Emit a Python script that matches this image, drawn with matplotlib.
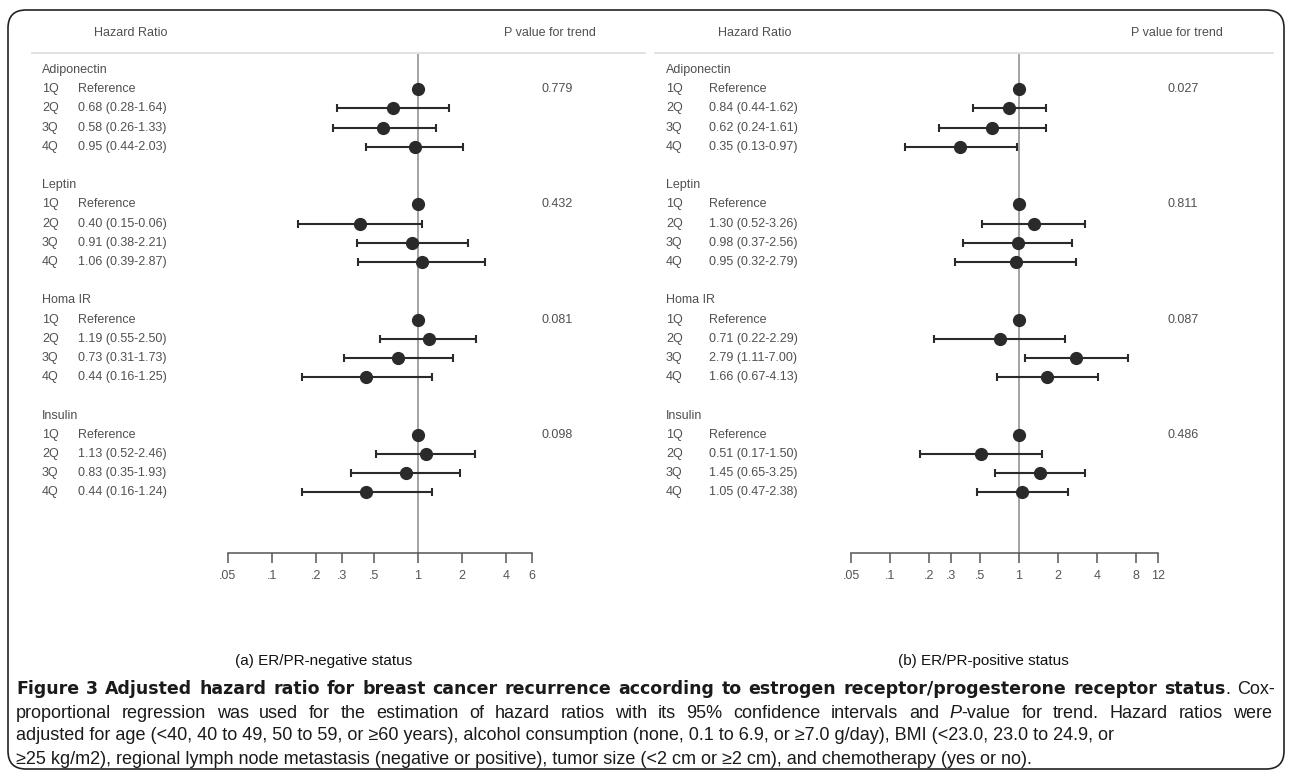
import numpy as np
import matplotlib
matplotlib.use("Agg")
import matplotlib.pyplot as plt
from matplotlib.patches import FancyBboxPatch
from matplotlib.transforms import blended_transform_factory

# ---- data ----
markers = ["Adiponectin", "Leptin", "Homa IR", "Insulin"]
quartiles = ["1Q", "2Q", "3Q", "4Q"]

# (a) ER/PR-negative
neg_hr = [[1, 0.68, 0.58, 0.95],
          [1, 0.40, 0.91, 1.06],
          [1, 1.19, 0.73, 0.44],
          [1, 1.13, 0.83, 0.44]]
neg_lo = [[np.nan, 0.28, 0.26, 0.44],
          [np.nan, 0.15, 0.38, 0.39],
          [np.nan, 0.55, 0.31, 0.16],
          [np.nan, 0.52, 0.35, 0.16]]
neg_hi = [[np.nan, 1.64, 1.33, 2.03],
          [np.nan, 1.06, 2.21, 2.87],
          [np.nan, 2.50, 1.73, 1.25],
          [np.nan, 2.46, 1.93, 1.24]]
neg_p = ["0.779", "0.432", "0.081", "0.098"]
# label as printed in the original (typo kept)
neg_label_fix = {(1, 1): "0.40 (0.15-0.06)"}
neg_ticks = [0.05, 0.1, 0.2, 0.3, 0.5, 1, 2, 4, 6]
neg_ticklabels = [".05", ".1", ".2", ".3", ".5", "1", "2", "4", "6"]

# (b) ER/PR-positive
pos_hr = [[1, 0.84, 0.62, 0.35],
          [1, 1.30, 0.98, 0.95],
          [1, 0.71, 2.79, 1.66],
          [1, 0.51, 1.45, 1.05]]
pos_lo = [[np.nan, 0.44, 0.24, 0.13],
          [np.nan, 0.52, 0.37, 0.32],
          [np.nan, 0.22, 1.11, 0.67],
          [np.nan, 0.17, 0.65, 0.47]]
pos_hi = [[np.nan, 1.62, 1.61, 0.97],
          [np.nan, 3.26, 2.56, 2.79],
          [np.nan, 2.29, 7.00, 4.13],
          [np.nan, 1.50, 3.25, 2.38]]
pos_p = ["0.027", "0.811", "0.087", "0.486"]
pos_ticks = [0.05, 0.1, 0.2, 0.3, 0.5, 1, 2, 4, 8, 12]
pos_ticklabels = [".05", ".1", ".2", ".3", ".5", "1", "2", "4", "8", "12"]

subtitles = ["(a) ER/PR-negative status", "(b) ER/PR-positive status"]

cap_lines = [
    [("Figure 3 Adjusted hazard ratio for breast cancer recurrence according to estrogen "
      "receptor/progesterone receptor status", "bold", "normal"), (". Cox-", "normal", "normal")],
    [("proportional regression was used for the estimation of hazard ratios with its 95% "
      "confidence intervals and ", "normal", "normal"), ("P", "normal", "italic"),
     ("-value for trend. Hazard ratios were", "normal", "normal")],
    [("adjusted for age (<40, 40 to 49, 50 to 59, or \u226560 years), alcohol consumption "
      "(none, 0.1 to 6.9, or \u22657.0 g/day), BMI (<23.0, 23.0 to 24.9, or", "normal", "normal")],
    [("\u226525 kg/m2), regional lymph node metastasis (negative or positive), tumor size "
      "(<2 cm or \u22652 cm), and chemotherapy (yes or no).", "normal", "normal")],
]

W, H = 1290, 776
plt.rcParams["font.family"] = ["Liberation Sans", "DejaVu Sans"]
fig = plt.figure(figsize=(W / 100, H / 100), dpi=100)
renderer = fig.canvas.get_renderer()

TXT = "#505050"
INK = "#2a2a2a"
ROW0, STEP = 70, 19.2        # pixel y of first row, row spacing
AX_TOP, AX_BOT = 54, 553      # pixel y of the plot area


def fx(px):
    return px / W


def fy(py):
    return 1 - py / H


def forest(hr, lo, hi, pvals, ticks, ticklabels, xmin, xmax, left_px, px_per_dec,
           x_name, x_val, x_p, x_hdr, x_phdr, sep, label_fix=None):
    width_px = px_per_dec * np.log10(xmax / xmin)
    ax = fig.add_axes([fx(left_px), fy(AX_BOT), width_px / W, (AX_BOT - AX_TOP) / H])
    ax.set_xscale("log")
    ax.set_xlim(xmin, xmax)
    ax.set_ylim((AX_BOT - ROW0) / STEP, (AX_TOP - ROW0) / STEP)
    for s in ["top", "left", "right"]:
        ax.spines[s].set_visible(False)
    ax.spines["bottom"].set_color("#555555")
    ax.spines["bottom"].set_linewidth(1.1)
    ax.set_yticks([])
    ax.set_xticks(ticks)
    ax.set_xticklabels(ticklabels)
    ax.minorticks_off()
    ax.tick_params(axis="x", length=7, width=1.1, color="#555555", labelcolor="#555555",
                   labelsize=9, pad=5)
    ax.axvline(1, color="#8a8a8a", lw=1.1, zorder=1)
    ax.patch.set_alpha(0)

    tr = blended_transform_factory(fig.transFigure, ax.transData)
    for b, name in enumerate(markers):
        r0 = 6 * b
        ax.text(fx(x_name), r0, name, transform=tr, va="center", ha="left",
                fontsize=9, color=TXT)
        rows = [r0 + 1 + q for q in range(4)]
        ax.errorbar(hr[b], rows, xerr=[np.array(hr[b]) - np.array(lo[b]),
                                       np.array(hi[b]) - np.array(hr[b])],
                    fmt="o", color=INK, ms=8.5, elinewidth=1.5, capsize=2.8,
                    capthick=1.5, zorder=3)
        for q in range(4):
            ax.text(fx(x_name), rows[q], quartiles[q], transform=tr, va="center",
                    ha="left", fontsize=9, color=TXT)
            if q == 0:
                lab = "Reference"
            elif label_fix and (b, q) in label_fix:
                lab = label_fix[(b, q)]
            else:
                lab = f"{hr[b][q]:.2f} ({lo[b][q]:.2f}-{hi[b][q]:.2f})"
            ax.text(fx(x_val), rows[q], lab, transform=tr, va="center", ha="left",
                    fontsize=9, color=TXT)
        ax.text(fx(x_p), r0 + 1, pvals[b], transform=tr, va="center", ha="left",
                fontsize=9, color=TXT)

    fig.text(fx(x_hdr), fy(33), "Hazard Ratio", va="center", ha="left", fontsize=9, color=TXT)
    fig.text(fx(x_phdr), fy(33), "P value for trend", va="center", ha="left",
             fontsize=9, color=TXT)
    fig.add_artist(plt.Line2D([fx(sep[0]), fx(sep[1])], [fy(53), fy(53)],
                              color="#dddddd", lw=1.2))
    return ax


forest(neg_hr, neg_lo, neg_hi, neg_p, neg_ticks, neg_ticklabels, 0.05, 6, 228, 146.0,
       42, 78, 542, 94, 504, (32, 645), neg_label_fix)
forest(pos_hr, pos_lo, pos_hi, pos_p, pos_ticks, pos_ticklabels, 0.05, 12, 851, 129.1,
       666, 709, 1167, 718, 1131, (655, 1273))

# ---- sub-captions ----
fig.text(fx(324), fy(661), subtitles[0], ha="center", va="center", fontsize=11, color="#111111")
fig.text(fx(983), fy(661), subtitles[1], ha="center", va="center", fontsize=11, color="#111111")


# ---- figure caption (first two lines justified like the journal layout) ----
def text_width(txt, **kw):
    t = fig.text(0, 0, txt, **kw)
    w = t.get_window_extent(renderer).width
    t.remove()
    return w


def fit_size(txt, target_px, **kw):
    return 10 * target_px / text_width(txt, fontsize=10, **kw)


reg_fs = fit_size(cap_lines[2][0][0], 1100)
bold_kw = dict(family=["DejaVu Sans"], fontweight="bold")
bold_fs = fit_size(cap_lines[0][0][0], 1200, **bold_kw)


def piece_kw(wt, st):
    if wt == "bold":
        return dict(fontsize=bold_fs, **bold_kw)
    return dict(fontsize=reg_fs, fontstyle=st)


def tokenize(parts):
    tokens, glue = [], False
    for txt, wt, st in parts:
        for i, w in enumerate(txt.split(" ")):
            if w == "":
                continue
            if i == 0 and glue and tokens:
                tokens[-1].append((w, wt, st))
            else:
                tokens.append([(w, wt, st)])
        glue = not txt.endswith(" ")
    return tokens


cap_y = [689, 713, 736, 759]
cap_right = [1275, 1272, None, None]
for parts, y, right in zip(cap_lines, cap_y, cap_right):
    if right is None:
        x = 16
        for txt, wt, st in parts:
            t = fig.text(fx(x), fy(y), txt, ha="left", va="center", color="#1a1a1a",
                         **piece_kw(wt, st))
            x = t.get_window_extent(renderer).x1
        continue
    tokens = tokenize(parts)
    widths = [sum(text_width(w, **piece_kw(wt, st)) for w, wt, st in tok) for tok in tokens]
    gap = (right - 16 - sum(widths)) / (len(tokens) - 1)
    x = 16
    for tok, tw in zip(tokens, widths):
        xx = x
        for w, wt, st in tok:
            t = fig.text(fx(xx), fy(y), w, ha="left", va="center", color="#1a1a1a",
                         **piece_kw(wt, st))
            xx = t.get_window_extent(renderer).x1
        x += tw + gap

# ---- rounded outer frame ----
frame = FancyBboxPatch((0.08, 0.07), 12.76, 7.59, boxstyle="round,pad=0,rounding_size=0.18",
                       transform=fig.dpi_scale_trans, fill=False, ec="#222222", lw=1.2)
fig.add_artist(frame)

fig.savefig("out.png", dpi=100)
